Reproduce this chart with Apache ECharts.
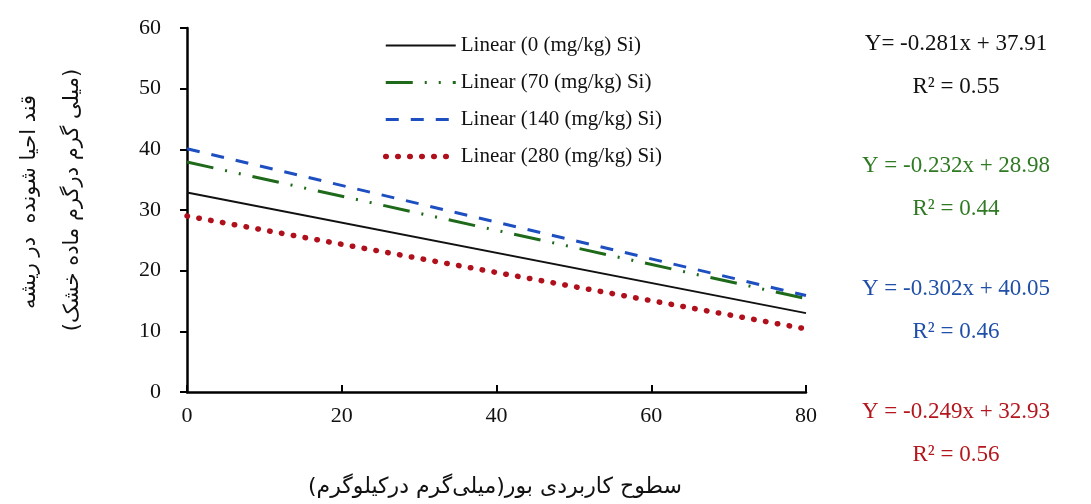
<!DOCTYPE html>
<html>
<head>
<meta charset="utf-8">
<script src="https://cdn.jsdelivr.net/npm/echarts@6/dist/echarts.min.js"></script>
<style>
  html, body { margin: 0; padding: 0; background: #fff; }
  #chart { width: 1091px; height: 504px; }
</style>
</head>
<body>
<div id="chart"></div>
<script>
// boron levels (x) at the two ends of each fitted line
var boronLevels = [0, 80];

// fitted trend values
var si0 = [32.9, 13.0];
var si70 = [37.9, 15.4];
var si140 = [40.1, 15.9];
var si280 = [29.0, 10.4];

var seriesNames = [
  "Linear (0 (mg/kg) Si)",
  "Linear (70 (mg/kg) Si)",
  "Linear (140 (mg/kg) Si)",
  "Linear (280 (mg/kg) Si)"
];

var equations = [
  ["Y= -0.281x + 37.91", "R² = 0.55"],
  ["Y = -0.232x + 28.98", "R² = 0.44"],
  ["Y = -0.302x + 40.05", "R² = 0.46"],
  ["Y = -0.249x + 32.93", "R² = 0.56"]
];

var yTitle1 = "قند احیا شونده  در ریشه";
var yTitle2 = "(میلی گرم درگرم ماده خشک)";
var xTitle = "سطوح کاربردی بور(میلی‌گرم درکیلوگرم)";

var serif = "'Liberation Serif', 'Times New Roman', serif";
var persian = "'DejaVu Sans', 'Noto Sans', sans-serif";

function pairs(vals) {
  return vals.map(function (v, i) { return [boronLevels[i], v]; });
}

var myChart = echarts.init(document.getElementById("chart"));

var lineColors = ["#111111", "#1f6a1a", "#1d4fc0", "#b0101c"];
var lineStyles = [
  { color: lineColors[0], width: 2 },
  { color: lineColors[1], width: 3, type: [27, 12, 2, 12, 2, 12] },
  { color: lineColors[2], width: 3, type: [13, 12] },
  { color: lineColors[3], width: 5.5, type: [0.5, 11.5], cap: "round" }
];

var eqColors = ["#111111", "#2f7a23", "#1f4fa8", "#b3161c"];
var eqRows = [44, 166, 289, 412];
var graphics = [];
equations.forEach(function (eq, i) {
  graphics.push({
    type: "text", x: 956, y: eqRows[i],
    style: { text: eq[0], font: "23px " + serif, fill: eqColors[i], align: "center", verticalAlign: "middle" }
  });
  graphics.push({
    type: "text", x: 956, y: eqRows[i] + 43,
    style: { text: eq[1], font: "23px " + serif, fill: eqColors[i], align: "center", verticalAlign: "middle" }
  });
});
// y axis titles, rotated
graphics.push({
  type: "text", x: 30, y: 202, rotation: Math.PI / 2,
  style: { text: yTitle1, font: "21px " + persian, fill: "#111", align: "center", verticalAlign: "middle" }
});
graphics.push({
  type: "text", x: 73, y: 200, rotation: Math.PI / 2,
  style: { text: yTitle2, font: "21px " + persian, fill: "#111", align: "center", verticalAlign: "middle" }
});
graphics.push({
  type: "text", x: 495, y: 487,
  style: { text: xTitle, font: "22px " + persian, fill: "#111", align: "center", verticalAlign: "middle" }
});

var option = {
  backgroundColor: "#ffffff",
  animation: false,
  grid: { left: 187, right: 285, top: 28, bottom: 112 },
  legend: {
    orient: "vertical",
    left: 378, top: 30,
    itemWidth: 70, itemHeight: 14, itemGap: 16,
    itemStyle: { opacity: 0 },
    textStyle: { fontFamily: serif, fontSize: 21, color: "#111" },
    data: seriesNames.map(function (n, i) {
      return { name: n, lineStyle: lineStyles[i] };
    })
  },
  xAxis: {
    type: "value", min: 0, max: 80, interval: 20,
    axisLine: { lineStyle: { color: "#000", width: 2.5 } },
    axisTick: { inside: true, length: 7, lineStyle: { color: "#000", width: 2 } },
    axisLabel: { fontFamily: serif, fontSize: 22, color: "#111", margin: 13 },
    splitLine: { show: false }
  },
  yAxis: {
    type: "value", min: 0, max: 60, interval: 10,
    axisLine: { show: true, lineStyle: { color: "#000", width: 2.5 } },
    axisTick: { show: true, length: 7, lineStyle: { color: "#000", width: 2 } },
    axisLabel: { fontFamily: serif, fontSize: 22, color: "#111", margin: 26 },
    splitLine: { show: false }
  },
  series: seriesNames.map(function (n, i) {
    return {
      name: n, type: "line", symbol: "none",
      data: pairs([si0, si70, si140, si280][i]),
      lineStyle: lineStyles[i],
      itemStyle: { color: lineColors[i] }
    };
  }),
  graphic: graphics
};

myChart.setOption(option);
</script>
</body>
</html>
